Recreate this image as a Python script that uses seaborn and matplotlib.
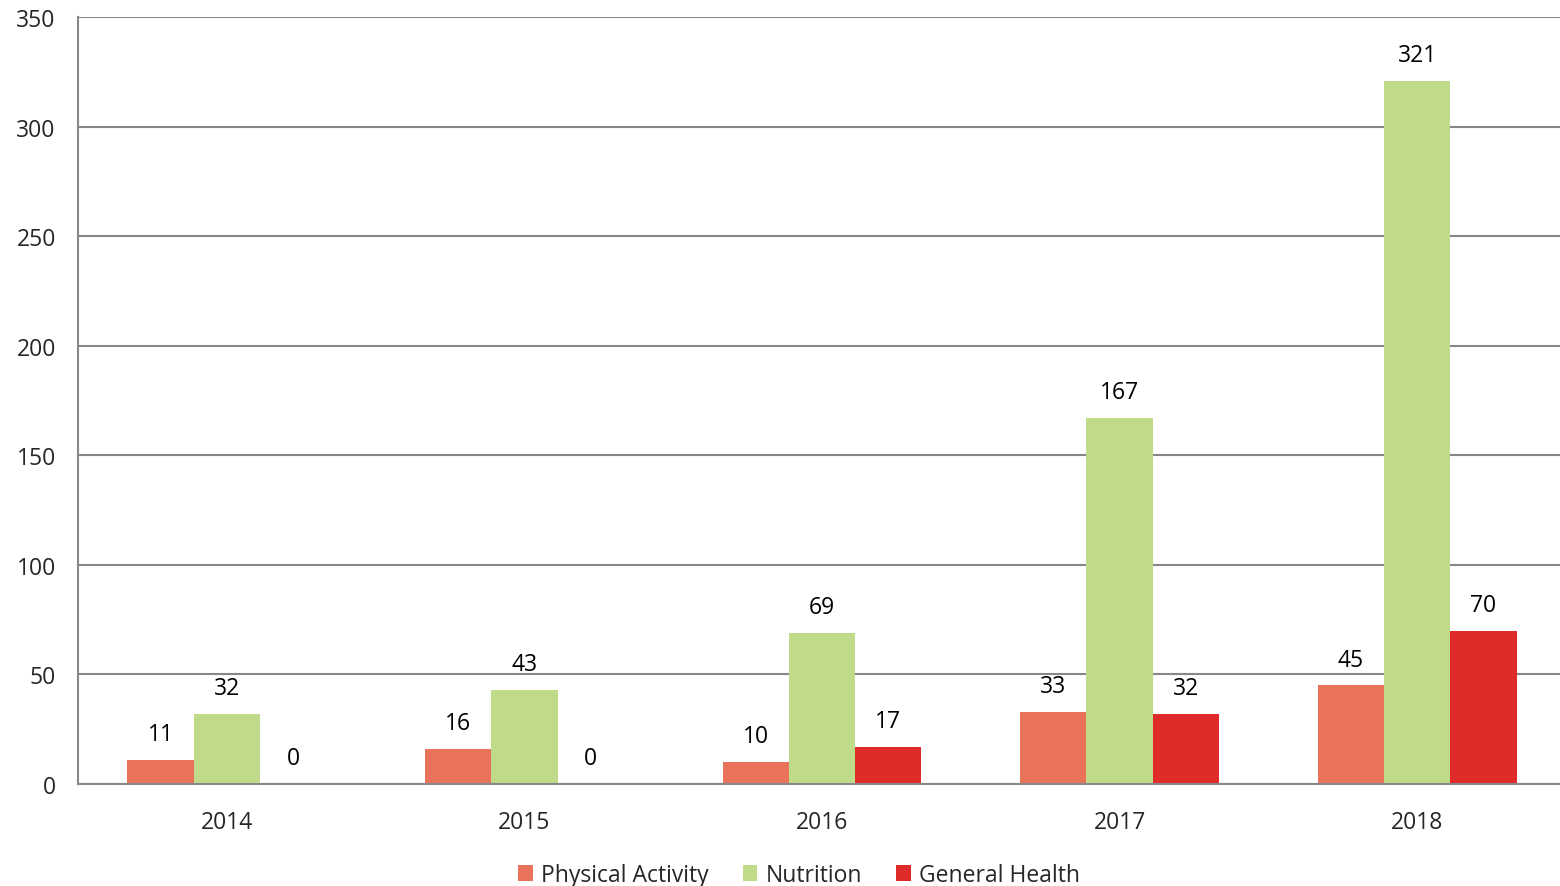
import matplotlib
matplotlib.use("Agg")
import matplotlib.pyplot as plt
import seaborn as sns
import pandas as pd
from matplotlib.patches import Patch

years = ["2014", "2015", "2016", "2017", "2018"]
series = ["Physical Activity", "Nutrition", "General Health"]
physical_activity = [11, 16, 10, 33, 45]
nutrition = [32, 43, 69, 167, 321]
general_health = [0, 0, 17, 32, 70]
colors = ["#E8735A", "#BFDB8A", "#E02B2B"]
y_ticks = [0, 50, 100, 150, 200, 250, 300, 350]

rows = []
for name, vals in zip(series, [physical_activity, nutrition, general_health]):
    for yr, v in zip(years, vals):
        rows.append({"Year": yr, "Series": name, "Value": v})
df = pd.DataFrame(rows)

sns.set_style("white")
plt.rcParams["font.family"] = ["Open Sans", "DejaVu Sans"]

fig = plt.figure(figsize=(15.6, 8.87), dpi=100)
ax = fig.add_axes([78 / 1560, 1 - 785 / 887, 1488 / 1560, (785 - 18) / 887])

sns.barplot(data=df, x="Year", y="Value", hue="Series", order=years,
            hue_order=series, palette=colors, width=0.668, saturation=1,
            errorbar=None, ax=ax, legend=False, edgecolor="none", linewidth=0)

ax.set_ylim(0, 350)
ax.set_xlim(-0.5, len(years) - 0.5)
ax.set_yticks(y_ticks)
ax.set_yticklabels([str(t) for t in y_ticks], fontsize=16.5)
ax.yaxis.grid(True, color="#878787", linewidth=1.5)
ax.set_axisbelow(True)
ax.set_xlabel("")
ax.set_ylabel("")

# category labels without ticks; ticks at boundaries
ax.set_xticks(range(len(years)))
ax.set_xticklabels(years, fontsize=16.5)
ax.tick_params(axis="x", length=0, pad=19)
ax.set_xticks([i - 0.5 for i in range(len(years) + 1)], minor=True)
ax.tick_params(axis="x", which="minor", length=8, width=1.5, color="#878787")
ax.tick_params(axis="y", length=8, width=1.5, color="#878787", pad=8)

for s in ["top", "right"]:
    ax.spines[s].set_visible(False)
for s in ["left", "bottom"]:
    ax.spines[s].set_color("#878787")
    ax.spines[s].set_linewidth(1.5)

for cont in ax.containers:
    for bar in cont:
        h = bar.get_height()
        ax.annotate(f"{int(round(h))}", (bar.get_x() + bar.get_width() / 2, h),
                    xytext=(0, 18.5), textcoords="offset points",
                    ha="center", va="center", fontsize=16.5, color="black",
                    annotation_clip=False)

handles = [Patch(facecolor=c, edgecolor="none") for c in colors]
fig.legend(handles, series, loc="center", bbox_to_anchor=(799 / 1560, 1 - 876 / 887),
           ncol=3, frameon=False, fontsize=16.5, handlelength=0.65, handleheight=0.65,
           handletextpad=0.35, columnspacing=1.5)

fig.savefig("out.png", dpi=100)
